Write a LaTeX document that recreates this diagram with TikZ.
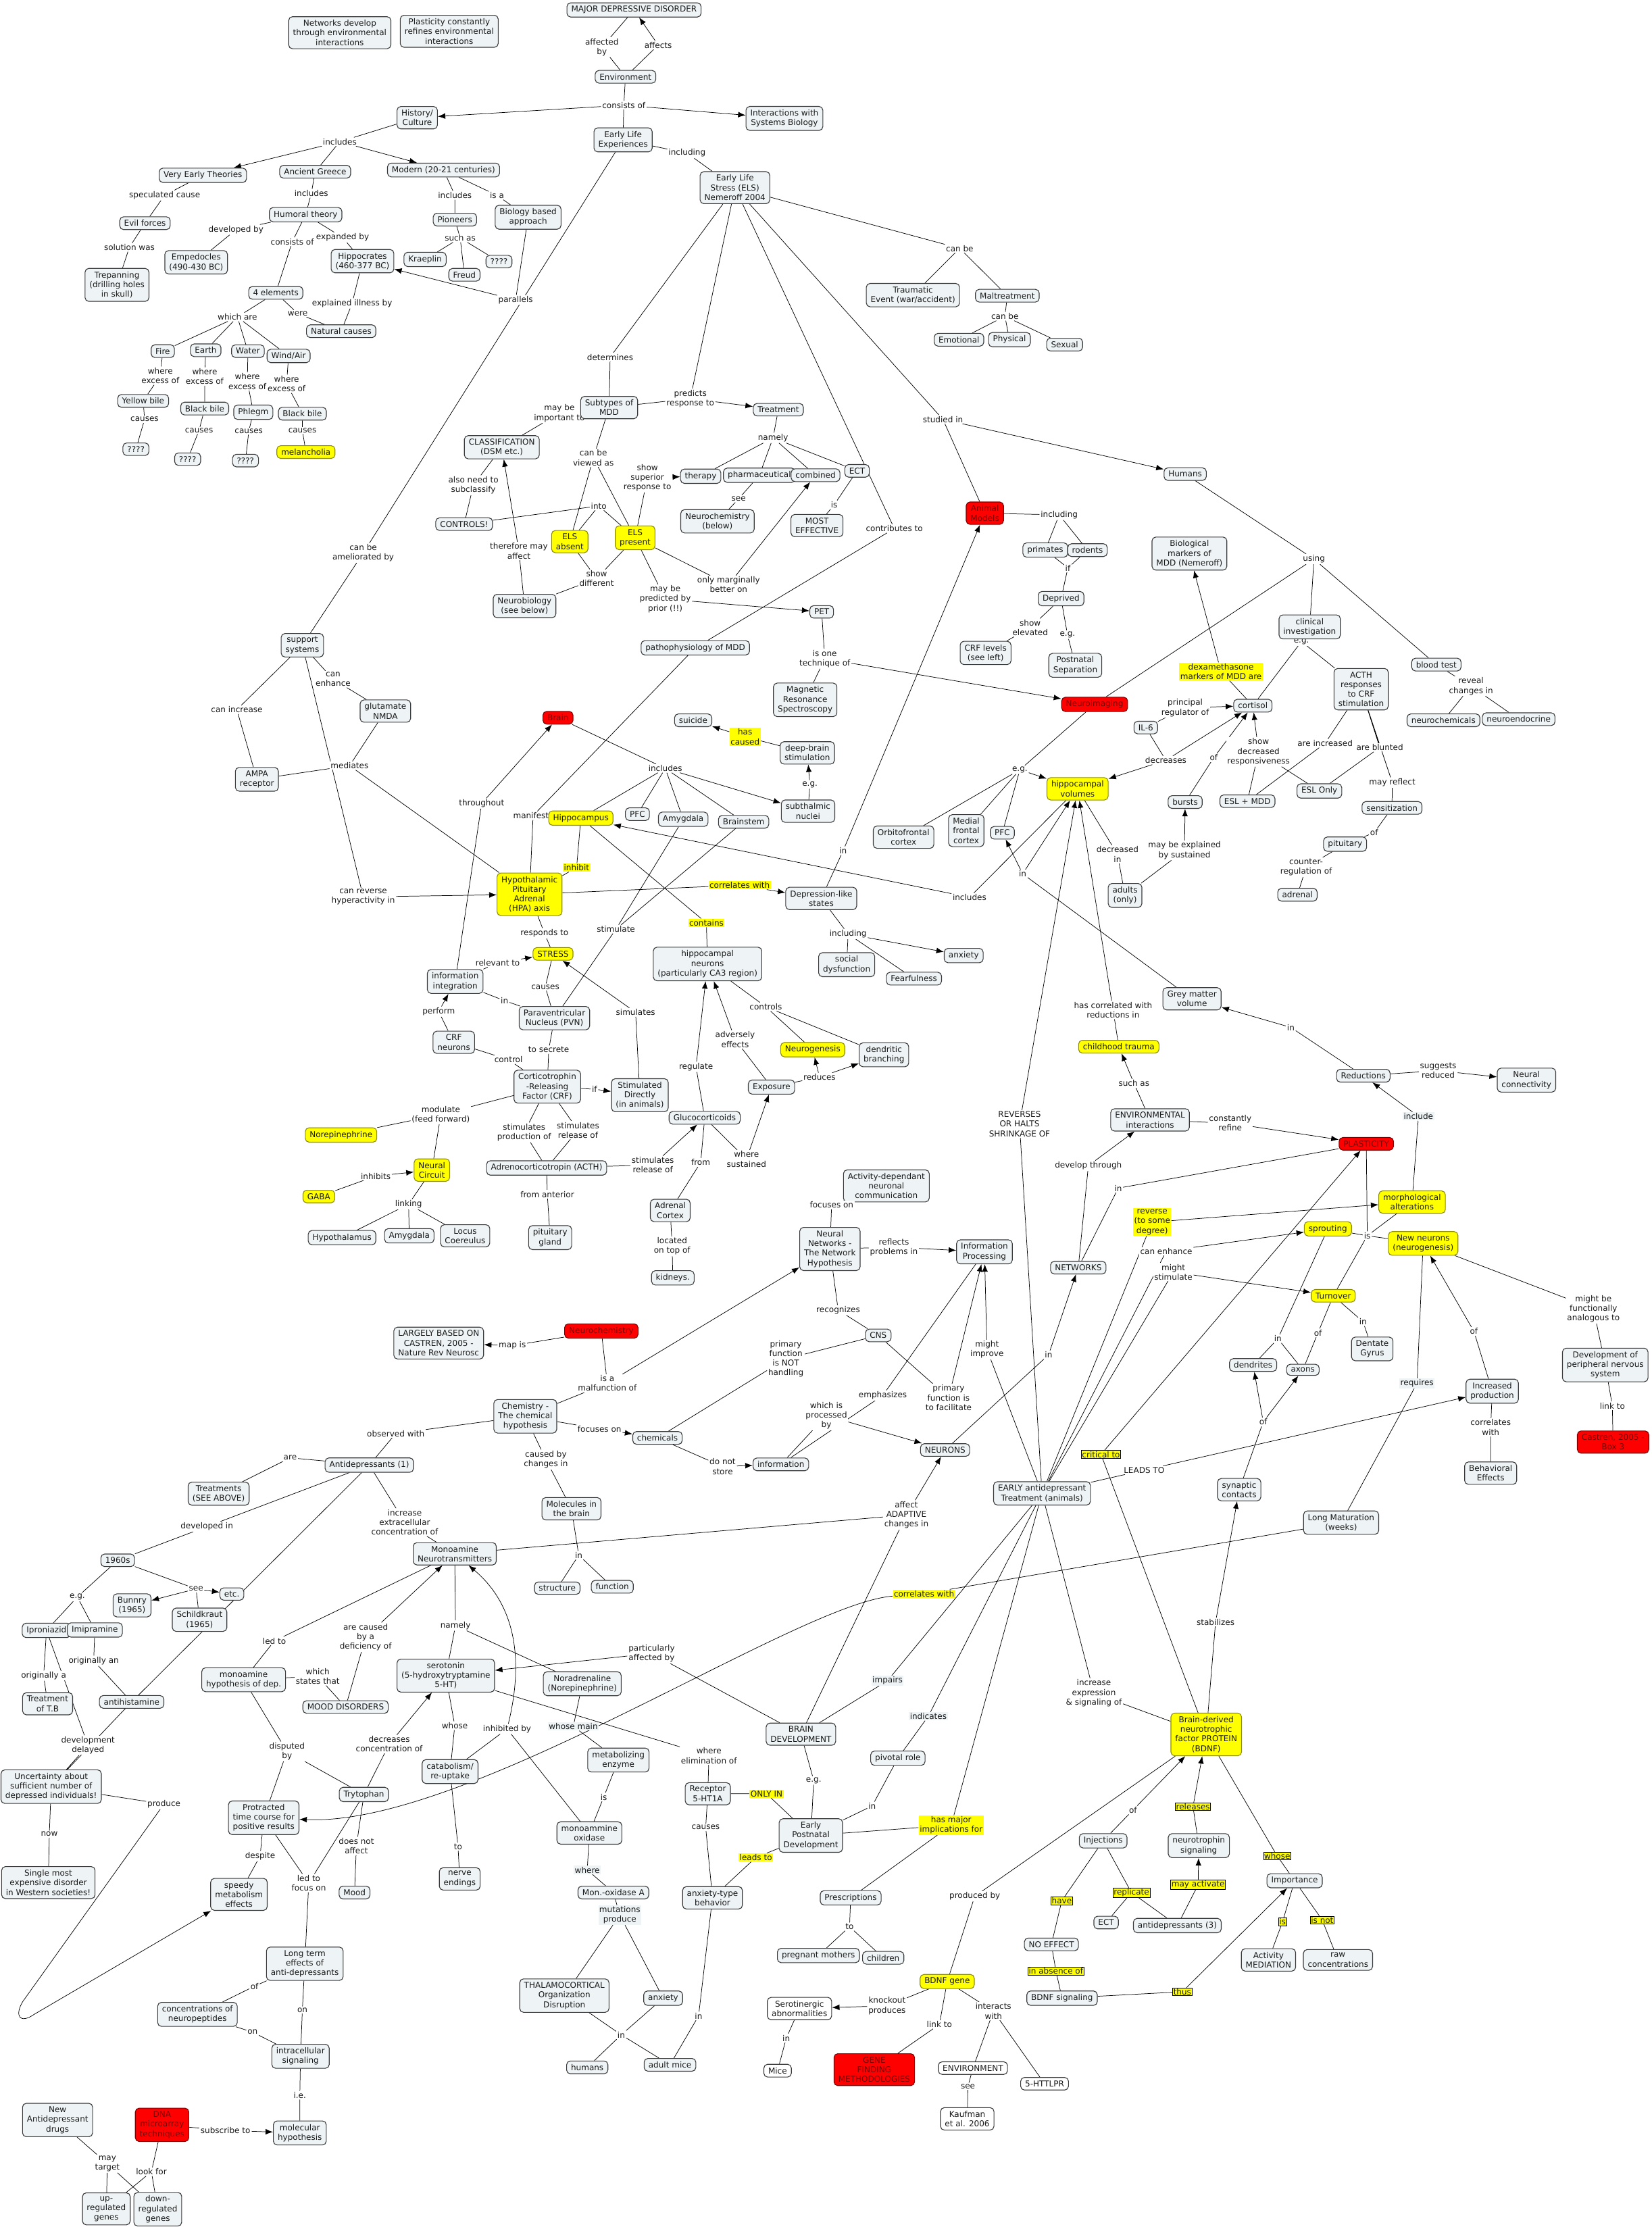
\documentclass[tikz,border=0pt]{standalone}
\usepackage{fontspec}
\setmainfont{DejaVu Sans}
\usetikzlibrary{arrows.meta,backgrounds}
\definecolor{Cfill}{HTML}{EEF3F5}
\definecolor{Cline}{HTML}{3A3A3A}
\definecolor{Yel}{HTML}{FFFF00}
\definecolor{YelLine}{HTML}{8C8C00}
\definecolor{Rd}{HTML}{FF0000}
\definecolor{RdText}{HTML}{7A0000}

\begin{document}
\begin{tikzpicture}[x=0.04cm,y=-0.04cm,
  every node/.style={font=\fontsize{6.5}{7.7}\selectfont,align=center,text=black!90},
  cpt/.style={draw=Cline,fill=Cfill,rounded corners=3pt,inner xsep=3.5pt,inner ysep=2.6pt,line width=0.6pt},
  wcpt/.style={cpt,fill=white},
  ycpt/.style={cpt,draw=YelLine,fill=Yel},
  rcpt/.style={cpt,draw=RdText,fill=Rd,text=RdText},
  lnk/.style={fill=white,inner sep=0.8pt},
  glnk/.style={fill=Cfill,inner sep=0.8pt},
  ylnk/.style={fill=Yel,inner sep=0.8pt},
  yblnk/.style={fill=Yel,draw=black,line width=0.4pt,inner sep=0.6pt},
  >={Latex[length=6pt,width=4.6pt]}]
\useasboundingbox (0,0) rectangle (1162,1568);

\node[cpt] (netdev) at (239,23) {Networks develop\\through environmental\\interactions};
\node[cpt] (plref) at (316,22) {Plasticity constantly\\refines environmental\\interactions};
\node[cpt] (mdd) at (446,7) {MAJOR DEPRESSIVE DISORDER};
\node[lnk] (affby) at (423.4,33.2) {affected\\by};
\node[lnk] (affects) at (463,31.7) {affects};
\node[cpt] (env) at (440,54) {Environment};
\node[lnk] (consof) at (438.8,74) {consists of};
\node[cpt] (hist) at (293.5,82.8) {History/\\Culture};
\node[cpt] (isb) at (551.8,83.3) {Interactions with\\Systems Biology};
\node[cpt] (ele) at (438.3,98.4) {Early Life\\Experiences};
\node[lnk] (incl1) at (483.3,107.7) {including};
\node[cpt] (els) at (517,132) {Early Life\\Stress (ELS)\\Nemeroff 2004};
\node[lnk] (inch) at (239,99.7) {includes};
\node[cpt] (vet) at (142.7,123.3) {Very Early Theories};
\node[cpt] (ag) at (221.7,120.8) {Ancient Greece};
\node[cpt] (modern) at (312,119.6) {Modern (20-21 centuries)};
\node[lnk] (spec) at (115.8,137.4) {speculated cause};
\node[lnk] (incag) at (219,136) {includes};
\node[lnk] (incmod) at (320,137.4) {includes};
\node[lnk] (isa) at (349.6,137.4) {is a};
\node[cpt] (evil) at (102,157) {Evil forces};
\node[cpt] (humor) at (215,151) {Humoral theory};
\node[cpt] (pion) at (320,154.5) {Pioneers};
\node[cpt] (biob) at (371.5,152.8) {Biology based\\approach};
\node[lnk] (devby) at (166,161.6) {developed by};
\node[lnk] (consof2) at (205.6,170) {consists of};
\node[lnk] (expby) at (241,167) {expanded by};
\node[lnk] (suchas) at (323.7,167.4) {such as};
\node[lnk] (solwas) at (91,174) {solution was};
\node[cpt] (emp) at (138,184.5) {Empedocles\\(490-430 BC)};
\node[cpt] (hipp) at (255,183.7) {Hippocrates\\(460-377 BC)};
\node[cpt] (krae) at (299,182.5) {Kraeplin};
\node[cpt] (freud) at (326.7,193.3) {Freud};
\node[cpt] (qa) at (351,184) {????};
\node[cpt] (trep) at (82.3,200.4) {Trepanning\\(drilling holes\\in skull)};
\node[cpt] (fourel) at (194,206) {4 elements};
\node[lnk] (par) at (362.7,211) {parallels};
\node[lnk] (expill) at (247.7,213.4) {explained illness by};
\node[lnk] (whichare) at (167,223) {which are};
\node[lnk] (were) at (209.4,220.5) {were};
\node[cpt] (nat) at (240,233) {Natural causes};
\node[cpt] (fire) at (114.5,247) {Fire};
\node[cpt] (earth) at (144.7,246.4) {Earth};
\node[cpt] (water) at (174.4,247) {Water};
\node[cpt] (wind) at (203,250.4) {Wind/Air};
\node[lnk] (wex1) at (112.8,264.3) {where\\excess of};
\node[lnk] (wex2) at (144,264.8) {where\\excess of};
\node[lnk] (wex3) at (174,268.3) {where\\excess of};
\node[lnk] (wex4) at (201.6,270) {where\\excess of};
\node[cpt] (yb) at (100.7,282) {Yellow bile};
\node[cpt] (bb1) at (144,287.4) {Black bile};
\node[cpt] (phl) at (178.2,290) {Phlegm};
\node[cpt] (bb2) at (212.7,291) {Black bile};
\node[lnk] (cs1) at (101.7,295) {causes};
\node[lnk] (cs2) at (140,302.8) {causes};
\node[lnk] (cs3) at (175,303.3) {causes};
\node[lnk] (cs4) at (212.7,302.8) {causes};
\node[cpt] (qb) at (95.6,316) {????};
\node[cpt] (qc) at (132,323) {????};
\node[cpt] (qd) at (172.7,324) {????};
\node[ycpt] (mel) at (215.2,318) {melancholia};

\node[lnk] (canbe) at (675.1,174.7) {can be};
\node[cpt] (trauma) at (642.2,207.6) {Traumatic\\Event (war/accident)};
\node[cpt] (malt) at (708.6,208) {Maltreatment};
\node[lnk] (canbe2) at (706.9,222.5) {can be};
\node[cpt] (emot) at (674.6,239) {Emotional};
\node[cpt] (phys) at (710.1,238.9) {Physical};
\node[cpt] (sexual) at (748.9,242.4) {Sexual};
\node[lnk] (determ) at (429.2,251.2) {determines};
\node[lnk] (mayimp) at (393.5,290.7) {may be\\important to};
\node[cpt] (subt) at (428.5,286.7) {Subtypes of\\MDD};
\node[lnk] (predicts) at (485.6,280.4) {predicts\\response to};
\node[cpt] (treat) at (547.5,288.2) {Treatment};
\node[lnk] (namely) at (543.8,308) {namely};
\node[lnk] (canview) at (417.4,322) {can be\\viewed as};
\node[lnk] (showsup) at (455.4,336) {show\\superior\\response to};
\node[cpt] (ther) at (492.9,335) {therapy};
\node[cpt] (pharm) at (534.2,334.3) {pharmaceutical};
\node[cpt] (comb) at (573.7,334.3) {combined};
\node[cpt] (ect) at (602.9,331.2) {ECT};
\node[lnk] (see1) at (519.6,350.9) {see};
\node[cpt] (nchem) at (504.7,366.7) {Neurochemistry\\(below)};
\node[lnk] (is1) at (586.8,355.1) {is};
\node[cpt] (most) at (574.7,369.7) {MOST\\EFFECTIVE};
\node[lnk] (studin) at (663.3,295) {studied in};
\node[cpt] (humans) at (833.7,333.5) {Humans};
\node[lnk] (contrib) at (629.1,371.8) {contributes to};
\node[lnk] (into) at (421.2,355.9) {into};
\node[ycpt] (elsab) at (400.8,381) {ELS\\absent};
\node[ycpt] (elspr) at (446.8,378.3) {ELS\\present};
\node[rcpt] (animal) at (692.8,361) {Animal\\Models};
\node[lnk] (incl2) at (745.1,362.2) {including};
\node[cpt] (prim) at (735.3,386.9) {primates};
\node[cpt] (rod) at (765,387) {rodents};
\node[cpt] (classif) at (353,314.6) {CLASSIFICATION\\(DSM etc.)};
\node[lnk] (alsoneed) at (333,341.3) {also need to\\subclassify};
\node[cpt] (controls) at (326.5,368.7) {CONTROLS!};
\node[lnk] (thermay) at (365,387.6) {therefore may\\affect};
\node[lnk] (canam) at (255.5,389) {can be\\ameliorated by};

\node[lnk] (showdiff) at (419.7,407) {show\\different};
\node[lnk] (maypred) at (468,421.4) {may be\\predicted by\\prior (!!)};
\node[lnk] (onlymar) at (512.5,411.3) {only marginally\\better on};
\node[cpt] (pet) at (578,430.4) {PET};
\node[cpt] (patho) at (489.1,455.7) {pathophysiology of MDD};
\node[lnk] (istech) at (580.2,463.4) {is one\\technique of};
\node[cpt] (mrs) at (566.4,492.3) {Magnetic\\Resonance\\Spectroscopy};
\node[rcpt] (brain) at (392.5,504.9) {Brain};
\node[cpt] (suicide) at (487.6,506.7) {suicide};
\node[ylnk] (hascaused) at (524.1,518.3) {has\\caused};
\node[cpt] (dbs) at (567.9,529.6) {deep-brain\\stimulation};
\node[lnk] (incb) at (468,540.5) {includes};
\node[lnk] (eg1) at (569.7,551.8) {e.g.};
\node[cpt] (subth) at (568.4,570.6) {subthalmic\\nuclei};
\node[lnk] (manif) at (375,573.7) {manifests};
\node[ycpt] (hippoc) at (408.6,575.5) {Hippocampus};
\node[cpt] (pfc) at (448.4,572.7) {PFC};
\node[cpt] (amyg) at (480.6,576.3) {Amygdala};
\node[cpt] (brainst) at (523.1,578.1) {Brainstem};
\node[ylnk] (inhibit) at (405.6,610.3) {inhibit};
\node[ylnk] (corr1) at (520.3,622.7) {correlates with};
\node[cpt] (dls) at (577.7,632) {Depression-like\\states};
\node[lnk] (in1) at (593.1,598.4) {in};
\node[lnk] (incr) at (682,631.2) {includes};
\node[lnk] (stim) at (433.3,653.6) {stimulate};
\node[ylnk] (contains) at (496.9,649.2) {contains};
\node[lnk] (incl3) at (596.6,657) {including};
\node[cpt] (hneur) at (497.7,678.1) {hippocampal\\neurons\\(particularly CA3 region)};
\node[cpt] (socd) at (595.6,678.6) {social\\dysfunction};
\node[cpt] (fear) at (642.9,688.4) {Fearfulness};
\node[cpt] (anx1) at (677.9,672.2) {anxiety};
\node[lnk] (simul) at (447.1,712.1) {simulates};
\node[lnk] (ctrls) at (538.7,708.2) {controls};
\node[lnk] (advers) at (517.1,731.2) {adversely\\effects};
\node[ycpt] (neurog) at (571.7,738.4) {Neurogenesis};
\node[cpt] (dendb) at (621.8,742) {dendritic\\branching};
\node[lnk] (regul) at (489.6,750.5) {regulate};
\node[lnk] (reduces) at (576.5,757.7) {reduces};
\node[cpt] (expo) at (542.7,764.7) {Exposure};
\node[lnk] (if1) at (418.2,766.2) {if};
\node[cpt] (stimd) at (450.1,770.4) {Stimulated\\Directly\\(in animals)};
\node[cpt] (orb) at (635.6,588.9) {Orbitofrontal\\cortex};
\node[cpt] (mfc) at (679.7,584.3) {Medial\\frontal\\cortex};
\node[cpt] (pfcb) at (705.1,585.8) {PFC};
\node[lnk] (eg2) at (717.4,541.5) {e.g.};
\node[ycpt] (hvol) at (758,554.9) {hippocampal\\volumes};
\node[lnk] (in2) at (719.4,614.7) {in};
\node[lnk] (showel) at (724.7,441.5) {show\\elevated};
\node[cpt] (crfl) at (693.3,459.3) {CRF levels\\(see left)};
\node[cpt] (depr) at (746.4,421.1) {Deprived};
\node[lnk] (if2) at (751.2,399.5) {if};
\node[lnk] (eg3) at (750.9,446.4) {e.g.};
\node[cpt] (postn) at (756.4,468) {Postnatal\\Separation};
\node[rcpt] (neuroim) at (770,495.5) {Neuroimaging};
\node[cpt] (biom) at (836.7,389.4) {Biological\\markers of\\MDD (Nemeroff)};
\node[lnk] (using) at (924.3,393.3) {using};
\node[lnk] (eg4) at (915.5,451.3) {e.g.};
\node[cpt] (clin) at (921.3,441) {clinical\\investigation};
\node[cpt] (blood) at (1010.4,467.5) {blood test};
\node[lnk] (reveal) at (1034.8,482.7) {reveal\\changes in};
\node[cpt] (nchems) at (1015.4,506.7) {neurochemicals};
\node[cpt] (nendo) at (1068.3,505.9) {neuroendocrine};
\node[ylnk] (dexa) at (858.9,472.4) {dexamethasone\\markers of MDD are};
\node[cpt] (cort) at (881.3,496.4) {cortisol};
\node[lnk] (princ) at (833.7,497.9) {principal\\regulator of};
\node[cpt] (acthr) at (957.5,484.8) {ACTH\\responses\\to CRF\\stimulation};
\node[cpt] (il6) at (806,511.8) {IL-6};
\node[lnk] (decr) at (820.1,534.8) {decreases};
\node[lnk] (of1) at (853.8,533) {of};
\node[lnk] (showdec) at (885.3,528.9) {show\\decreased\\responsiveness};
\node[lnk] (areinc) at (932.1,522.9) {are increased};
\node[lnk] (areblu) at (970.6,525.8) {are blunted};
\node[cpt] (eslmdd) at (877.5,563.6) {ESL + MDD};
\node[cpt] (eslonly) at (928.1,556.4) {ESL Only};
\node[lnk] (mayref) at (979.4,550.5) {may reflect};
\node[cpt] (sens) at (979.2,568.3) {sensitization};
\node[cpt] (bursts) at (833.7,564.2) {bursts};
\node[lnk] (of2) at (966.6,585.8) {of};
\node[cpt] (pit) at (946.2,593.8) {pituitary};
\node[lnk] (counter) at (918.8,610) {counter-\\regulation of};
\node[cpt] (adren) at (912.7,629.4) {adrenal};
\node[lnk] (decin) at (786.1,601) {decreased\\in};
\node[lnk] (mayexp) at (833.2,598.2) {may be explained\\by sustained};
\node[cpt] (adults) at (791.4,629.9) {adults\\(only)};
\node[cpt] (grey) at (838.5,702.6) {Grey matter\\volume};
\node[lnk] (in3) at (908,722.7) {in};
\node[cpt] (reduc) at (959,756.7) {Reductions};
\node[lnk] (sugg) at (1011.7,753.1) {suggests\\reduced};
\node[cpt] (nconn) at (1073.8,759.8) {Neural\\connectivity};
\node[lnk] (suchas2) at (797.7,762.1) {such as};
\node[ycpt] (ctrauma) at (787,736.3) {childhood trauma};
\node[lnk] (hascorr) at (783,710.5) {has correlated with\\reductions in};

\node[cpt] (nbio) at (369,426.3) {Neurobiology\\(see below)};
\node[cpt] (support) at (212.7,453.9) {support\\systems};
\node[lnk] (canenh) at (234.3,477.8) {can\\enhance};
\node[lnk] (caninc) at (166.6,499.2) {can increase};
\node[cpt] (glut) at (271.1,500.2) {glutamate\\NMDA};
\node[lnk] (med) at (245.9,538.6) {mediates};
\node[cpt] (ampa) at (180.7,548.2) {AMPA\\receptor};
\node[lnk] (through) at (338.8,565.2) {throughout};
\node[lnk] (canrev) at (255.5,630.9) {can reverse\\hyperactivity in};
\node[ycpt] (hpa) at (372.5,629.1) {Hypothalamic\\Pituitary\\Adrenal\\(HPA) axis};
\node[lnk] (resp) at (383,656.5) {responds to};
\node[ycpt] (stress) at (389,671) {STRESS};
\node[lnk] (relev) at (350.1,677.3) {relevant to};
\node[cpt] (infoint) at (320.2,690.4) {information\\integration};
\node[lnk] (cs5) at (383.6,694.3) {causes};
\node[lnk] (in4) at (354.9,703.9) {in};
\node[cpt] (pvn) at (390,716.2) {Paraventricular\\Nucleus (PVN)};
\node[lnk] (perform) at (308.6,711.6) {perform};
\node[cpt] (crfn) at (319.2,733.2) {CRF\\neurons};
\node[lnk] (tosec) at (386,738.4) {to secrete};
\node[lnk] (control) at (357.7,745.4) {control};
\node[cpt] (crf) at (385,764.4) {Corticotrophin\\-Releasing\\Factor (CRF)};
\node[lnk] (modul) at (310.1,784) {modulate\\(feed forward)};
\node[ycpt] (norep) at (239.9,798.4) {Norepinephrine};
\node[lnk] (stprod) at (368.7,796.6) {stimulates\\production of};
\node[lnk] (strel1) at (406.6,795) {stimulates\\release of};
\node[cpt] (acth) at (384.5,821.6) {Adrenocorticotropin (ACTH)};
\node[ycpt] (nc) at (303.8,823.1) {Neural\\Circuit};
\node[lnk] (inhibits) at (264.3,827.3) {inhibits};
\node[ycpt] (gaba) at (224.3,841.7) {GABA};
\node[lnk] (linking) at (287.4,847.1) {linking};
\node[cpt] (hypoth) at (240.6,870.6) {Hypothalamus};
\node[cpt] (amyg2) at (287.9,869.3) {Amygdala};
\node[cpt] (locus) at (327.2,869.3) {Locus\\Coereulus};
\node[lnk] (fromant) at (385,840.1) {from anterior};
\node[cpt] (pitg) at (387,870.6) {pituitary\\gland};
\node[cpt] (largely) at (308.6,944.8) {LARGELY BASED ON\\CASTREN, 2005 -\\Nature Rev Neurosc};
\node[lnk] (mapis) at (360.4,946.6) {map is};
\node[cpt] (chem) at (369.5,996.3) {Chemistry -\\The chemical\\hypothesis};
\node[lnk] (obsw) at (278.4,1008.4) {observed with};
\node[lnk] (are) at (204.1,1025.5) {are};
\node[cpt] (antid) at (259.8,1030.6) {Antidepressants (1)};
\node[cpt] (treats) at (153.8,1050.7) {Treatments\\(SEE ABOVE)};
\node[lnk] (causedby) at (384,1026.7) {caused by\\changes in};
\node[lnk] (devin) at (145.5,1073.9) {developed in};
\node[lnk] (incext) at (284.7,1070.8) {increase\\extracellular\\concentration of};
\node[cpt] (mono) at (319.9,1093) {Monoamine\\Neurotransmitters};
\node[cpt] (sixties) at (82.8,1097.6) {1960s};
\node[lnk] (see2) at (137.9,1117.7) {see};
\node[cpt] (etc) at (163.1,1121.3) {etc.};
\node[lnk] (eg5) at (54.4,1123.4) {e.g.};
\node[cpt] (bunnry) at (92.9,1129.3) {Bunnry\\(1965)};
\node[cpt] (schild) at (140.4,1139.4) {Schildkraut\\(1965)};
\node[cpt] (iproz) at (32.7,1146.9) {Iproniazid};
\node[cpt] (imip) at (66.7,1146.6) {Imipramine};
\node[lnk] (ledto) at (193,1154.3) {led to};
\node[lnk] (arecaused) at (257.2,1151.7) {are caused\\by a\\deficiency of};
\node[lnk] (namely2) at (320.4,1143.5) {namely};

\node[cpt] (gluco) at (495.7,786.3) {Glucocorticoids};
\node[lnk] (strel2) at (459.2,819.5) {stimulates\\release of};
\node[lnk] (from) at (492.9,817.7) {from};
\node[lnk] (wsust) at (525.1,815.4) {where\\sustained};
\node[cpt] (actdep) at (623.5,834.2) {Activity-dependant\\neuronal\\communication};
\node[lnk] (focon1) at (585,847.6) {focuses on};
\node[cpt] (adrc) at (471.5,851.5) {Adrenal\\Cortex};
\node[cpt] (nnet) at (583.8,878.6) {Neural\\Networks -\\The Network\\Hypothesis};
\node[lnk] (reflects) at (628.8,877.3) {reflects\\problems in};
\node[cpt] (infop) at (692.5,880.6) {Information\\Processing};
\node[lnk] (located) at (472.8,876.7) {located\\on top of};
\node[cpt] (kidneys) at (473.3,898.9) {kidneys.};
\node[lnk] (reverses) at (717.2,790.7) {REVERSES\\OR HALTS\\SHRINKAGE OF};
\node[lnk] (devthr) at (765.6,820) {develop through};
\node[cpt] (networks) at (758.5,891.7) {NETWORKS};
\node[lnk] (recog) at (589.6,921.6) {recognizes};
\node[cpt] (cns) at (617.8,939.4) {CNS};
\node[rcpt] (nchemb) at (423,936.3) {Neurochemistry};
\node[lnk] (mightimp) at (694.3,949.4) {might\\improve};
\node[lnk] (in5) at (737.6,953) {in};
\node[lnk] (primnot) at (552.8,955.9) {primary\\function\\is NOT\\handling};
\node[lnk] (malf) at (427.2,973.1) {is a\\malfunction of};
\node[lnk] (emph) at (621,981.6) {emphasizes};
\node[lnk] (primfac) at (667.3,983.2) {primary\\function is\\to facilitate};
\node[lnk] (whproc) at (581.3,995.8) {which is\\processed\\by};
\node[lnk] (focon2) at (421.7,1005.1) {focuses on};
\node[cpt] (chemicals) at (462.5,1011.5) {chemicals};
\node[cpt] (neurons) at (664.8,1020) {NEURONS};
\node[lnk] (donot) at (508.3,1031.6) {do not\\store};
\node[cpt] (info) at (549.3,1030.1) {information};
\node[cpt] (early) at (733,1050.5) {EARLY antidepressant\\Treatment (animals)};
\node[lnk] (affad) at (637.6,1065.7) {affect\\ADAPTIVE\\changes in};
\node[cpt] (molec) at (402,1061.3) {Molecules in\\the brain};
\node[lnk] (in6) at (407.1,1094) {in};
\node[cpt] (struct) at (392,1117.2) {structure};
\node[cpt] (func) at (430.7,1116.2) {function};
\node[ylnk] (corr2) at (650,1121.1) {correlates with};
\node[lnk] (partaff) at (458.4,1163.1) {particularly\\affected by};
\node[yblnk] (crit) at (774.5,1023.1) {critical to};

\node[cpt] (envint) at (809,787.8) {ENVIRONMENTAL\\interactions};
\node[lnk] (constref) at (865.4,790.1) {constantly\\refine};
\node[glnk] (include) at (997.8,785.3) {include};
\node[rcpt] (plast) at (961.1,804.6) {PLASTICITY};
\node[lnk] (in7) at (786.6,835.8) {in};
\node[ycpt] (morph) at (993.3,845.6) {morphological\\alterations};
\node[ylnk] (reverse) at (810.5,859.7) {reverse\\(to some\\degree)};
\node[ycpt] (sprout) at (934.1,864.4) {sprouting};
\node[lnk] (is2) at (961.8,869.3) {is};
\node[ycpt] (newn) at (1001.1,874.7) {New neurons\\(neurogenesis)};
\node[lnk] (canenh2) at (820.4,880.1) {can enhance};
\node[lnk] (mightst) at (825.4,894.8) {might\\stimulate};
\node[ycpt] (turnover) at (937.9,911.5) {Turnover};
\node[lnk] (in8) at (958.8,929.8) {in};
\node[lnk] (mightbe) at (1120.9,920.6) {might be\\functionally\\analogous to};
\node[lnk] (in9) at (898.9,941.7) {in};
\node[lnk] (of3) at (927.1,937.6) {of};
\node[cpt] (dentate) at (965.3,948.9) {Dentate\\Gyrus};
\node[cpt] (dendr) at (881.5,960.2) {dendrites};
\node[cpt] (axons) at (916.5,963.6) {axons};
\node[cpt] (pns) at (1129.2,960.2) {Development of\\peripheral nervous\\system};
\node[glnk] (requires) at (996.8,973.1) {requires};
\node[cpt] (incprod) at (1049.7,978.6) {Increased\\production};
\node[lnk] (of4) at (1036.8,936.5) {of};
\node[lnk] (linkto) at (1134.2,988.9) {link to};
\node[lnk] (of5) at (888.6,1000.2) {of};
\node[lnk] (corrw) at (1048.6,1004) {correlates\\with};
\node[rcpt] (castren) at (1134.7,1014.4) {Castren, 2005 -\\Box 3};
\node[lnk] (leads) at (804.8,1034.2) {LEADS TO};
\node[cpt] (behav) at (1048.6,1036.3) {Behavioral\\Effects};
\node[cpt] (syn) at (871.7,1047.9) {synaptic\\contacts};
\node[cpt] (longmat) at (943.4,1071.1) {Long Maturation\\(weeks)};
\node[lnk] (stab) at (855.1,1141) {stabilizes};

\node[lnk] (origan) at (65.9,1168.3) {originally an};
\node[lnk] (origa) at (30.7,1178.7) {originally a};
\node[cpt] (tb) at (33.5,1198.5) {Treatment\\of T.B};
\node[cpt] (antih) at (92.6,1197.2) {antihistamine};
\node[cpt] (monohyp) at (171.4,1181.6) {monoamine\\hypothesis of dep.};
\node[lnk] (whichst) at (223.5,1179.2) {which\\states that};
\node[cpt] (mood) at (243.1,1200.8) {MOOD DISORDERS};
\node[cpt] (sero) at (313.6,1178.7) {serotonin\\(5-hydroxytryptamine\\5-HT)};
\node[lnk] (whose1) at (319.9,1213.9) {whose};
\node[lnk] (inhby) at (356.7,1216.2) {inhibited by};
\node[lnk] (decconc) at (273.8,1226.9) {decreases\\concentration of};
\node[lnk] (devdel) at (61.9,1227.7) {development\\delayed};
\node[lnk] (disp) at (201.9,1232.1) {disputed\\by};
\node[cpt] (catab) at (316.6,1246.2) {catabolism/\\re-uptake};
\node[cpt] (uncert) at (36,1256.8) {Uncertainty about\\sufficient number of\\depressed individuals!};
\node[cpt] (tryp) at (256,1262.3) {Trytophan};
\node[lnk] (produce) at (115.3,1269.1) {produce};
\node[cpt] (protr) at (185.5,1278.7) {Protracted\\time course for\\positive results};
\node[lnk] (doesnot) at (250.7,1298.5) {does not\\affect};
\node[lnk] (to1) at (322.2,1299) {to};
\node[lnk] (despite) at (183,1305.6) {despite};
\node[lnk] (now) at (34.7,1290.2) {now};
\node[cpt] (single) at (34,1324.3) {Single most\\expensive disorder\\in Western societies!};
\node[cpt] (speedy) at (168.1,1332.6) {speedy\\metabolism\\effects};
\node[lnk] (ledfocus) at (217.2,1324.6) {led to\\focus on};
\node[cpt] (moodn) at (249.4,1331.3) {Mood};
\node[cpt] (nerve) at (323.4,1321.7) {nerve\\endings};
\node[cpt] (longterm) at (214.4,1381.4) {Long term\\effects of\\anti-depressants};
\node[lnk] (of6) at (179,1397.2) {of};
\node[cpt] (neuropep) at (138.9,1417) {concentrations of\\neuropeptides};
\node[lnk] (on1) at (212.7,1413.9) {on};
\node[lnk] (on2) at (177.7,1429.5) {on};
\node[cpt] (intra) at (211.4,1446.5) {intracellular\\signaling};
\node[lnk] (ie) at (210.9,1473.8) {i.e.};
\node[cpt] (newad) at (40.5,1491.3) {New\\Antidepressant\\drugs};
\node[rcpt] (dna) at (114,1494.7) {DNA\\microarray\\techniques};
\node[lnk] (subscr) at (158.6,1498.6) {subscribe to};
\node[cpt] (molhyp) at (210.9,1500.4) {molecular\\hypothesis};
\node[lnk] (maytgt) at (75.5,1522) {may\\target};
\node[lnk] (lookfor) at (106.5,1527.7) {look for};
\node[cpt] (upreg) at (74.8,1553.8) {up-\\regulated\\genes};
\node[cpt] (downreg) at (111,1554.1) {down-\\regulated\\genes};

\node[cpt] (noradr) at (409.6,1184.4) {Noradrenaline\\(Norepinephrine)};
\node[glnk] (impairs) at (624.3,1182.3) {impairs};
\node[lnk] (incexp) at (769.5,1191) {increase\\expression\\\& signaling of};
\node[glnk] (indic) at (653,1207.3) {indicates};
\node[glnk] (whmain) at (403.3,1214.4) {whose main};
\node[cpt] (braind) at (563.4,1219.9) {BRAIN\\DEVELOPMENT};
\node[cpt] (metab) at (435,1238.1) {metabolizing\\enzyme};
\node[lnk] (whereel) at (498.7,1235) {where\\elimination of};
\node[cpt] (pivot) at (631.6,1236.8) {pivotal role};
\node[lnk] (eg6) at (572.4,1252.4) {e.g.};
\node[cpt] (recep) at (497.9,1261.8) {Receptor\\5-HT1A};
\node[ylnk] (onlyin) at (539.2,1261.8) {ONLY IN};
\node[lnk] (is3) at (424.7,1264.1) {is};
\node[lnk] (in10) at (613.5,1270.4) {in};
\node[ylnk] (hasmaj) at (669.1,1283.9) {has major\\implications for};
\node[cpt] (mao) at (414.6,1289.4) {monoammine\\oxidase};
\node[lnk] (cs6) at (496.4,1285.5) {causes};
\node[cpt] (epd) at (570.4,1291.2) {Early\\Postnatal\\Development};
\node[ylnk] (leadsto) at (531.7,1306.6) {leads to};
\node[glnk] (where) at (413.1,1315.4) {where};
\node[cpt] (maoa) at (431.5,1331.3) {Mon.-oxidase A};
\node[cpt] (anxt) at (501.2,1335) {anxiety-type\\behavior};
\node[cpt] (presc) at (598.4,1335) {Prescriptions};
\node[lnk] (prodby) at (685.7,1333.9) {produced by};
\node[glnk] (mutprod) at (436,1347.2) {mutations\\produce};
\node[lnk] (to2) at (597.6,1355.3) {to};
\node[cpt] (pregm) at (575.7,1375.6) {pregnant mothers};
\node[cpt] (children) at (621.3,1377.2) {children};
\node[ycpt] (bdnfg) at (666.3,1393.9) {BDNF gene};
\node[cpt] (thal) at (397,1403.8) {THALAMOCORTICAL\\Organization\\Disruption};
\node[cpt] (anx2) at (466.5,1405.6) {anxiety};
\node[lnk] (knock) at (624,1411) {knockout\\produces};
\node[wcpt] (serab) at (562.4,1412.9) {Serotinergic\\abnormalities};
\node[lnk] (interw) at (698.8,1414.7) {interacts\\with};
\node[lnk] (in11) at (491.4,1418.1) {in};
\node[lnk] (linkto2) at (660.8,1424.1) {link to};
\node[lnk] (in12) at (437,1431.4) {in};
\node[lnk] (in13) at (553.1,1433.7) {in};
\node[cpt] (humans2) at (413.1,1454.3) {humans};
\node[cpt] (adultm) at (471.3,1452.5) {adult mice};
\node[wcpt] (envb) at (684.4,1454.8) {ENVIRONMENT};
\node[wcpt] (mice) at (547,1456.6) {Mice};
\node[rcpt] (gene) at (615,1455.9) {GENE\\FINDING\\METHODOLOGIES};
\node[wcpt] (httlpr) at (734.8,1465.8) {5-HTTLPR};
\node[lnk] (see3) at (680.9,1467.6) {see};
\node[wcpt] (kauf) at (680.4,1490.5) {Kaufman\\et al. 2006};
\node[yblnk] (have) at (746.9,1337.1) {have};
\node[cpt] (noeff) at (739.6,1367.8) {NO EFFECT};
\node[yblnk] (inabs) at (742.8,1386.6) {in absence of};
\node[cpt] (bdnfsig) at (747.1,1405.6) {BDNF signaling};

\node[ycpt] (bdnf) at (848.5,1220.1) {Brain-derived\\neurotrophic\\factor PROTEIN\\(BDNF)};
\node[lnk] (of7) at (797,1273.3) {of};
\node[yblnk] (releases) at (839.2,1270.9) {releases};
\node[cpt] (inj) at (776,1294.9) {Injections};
\node[cpt] (ntsig) at (843.3,1298.3) {neurotrophin\\signaling};
\node[yblnk] (whose2) at (898.4,1305.5) {whose};
\node[cpt] (import) at (910.7,1323) {Importance};
\node[yblnk] (mayact) at (842.8,1325.9) {may activate};
\node[yblnk] (replic) at (795.9,1331.3) {replicate};
\node[cpt] (ectb) at (778.1,1352.4) {ECT};
\node[cpt] (antid3) at (828.2,1354.5) {antidepressants (3)};
\node[yblnk] (is4) at (902.2,1351.9) {is};
\node[yblnk] (isnot) at (930.1,1350.6) {is not};
\node[cpt] (actmed) at (892.3,1378.7) {Activity\\MEDIATION};
\node[cpt] (rawc) at (941.2,1378.7) {raw\\concentrations};
\node[yblnk] (thus) at (831.7,1401.1) {thus};

\coordinate (loopa) at (16,1408);
\coordinate (loopb) at (24,1417);

\begin{scope}[on background layer,line width=0.55pt]
\draw (env)--(affby)--(mdd) (env)--(affects) (env)--(consof)--(ele) (ele)--(incl1)--(els)
 (hist)--(inch)--(ag) (vet)--(spec)--(evil)--(solwas)--(trep) (ag)--(incag)--(humor)
 (humor)--(devby)--(emp) (humor)--(consof2)--(fourel) (humor)--(expby)--(hipp)
 (modern)--(incmod)--(pion) (modern)--(isa)--(biob) (pion)--(suchas)--(krae) (suchas)--(freud) (suchas)--(qa)
 (biob)--(par) (hipp)--(expill)--(nat) (fourel)--(whichare) (whichare)--(fire) (whichare)--(earth)
 (whichare)--(water) (whichare)--(wind) (fourel)--(were)--(nat)
 (fire)--(wex1)--(yb)--(cs1)--(qb) (earth)--(wex2)--(bb1)--(cs2)--(qc)
 (water)--(wex3)--(phl)--(cs3)--(qd) (wind)--(wex4)--(bb2)--(cs4)--(mel)
 (ele)--(canam)--(support);
\draw (els)--(canbe)--(trauma) (canbe)--(malt)--(canbe2)--(emot) (canbe2)--(phys) (canbe2)--(sexual)
 (els)--(determ)--(subt) (els)--(predicts) (subt)--(predicts) (els)--(contrib)--(patho)
 (els)--(studin)--(animal) (subt)--(canview)--(elsab) (canview)--(elspr) (subt)--(mayimp)--(classif)
 (treat)--(namely)--(ther) (namely)--(pharm) (namely)--(comb) (namely)--(ect)
 (pharm)--(see1)--(nchem) (ect)--(is1)--(most) (controls)--(into)--(elsab) (into)--(elspr)
 (elspr)--(showsup) (elspr)--(onlymar) (elspr)--(maypred) (elsab)--(showdiff)--(nbio) (elspr)--(showdiff)
 (nbio)--(thermay) (classif)--(alsoneed)--(controls) (animal)--(incl2)--(prim) (incl2)--(rod)
 (prim)--(if2)--(depr) (rod)--(if2) (depr)--(showel)--(crfl) (depr)--(eg3)--(postn)
 (pet)--(istech) (mrs)--(istech) (patho)--(manif)--(hpa);
\draw (brain)--(incb)--(hippoc) (incb)--(pfc) (incb)--(amyg) (incb)--(brainst) (infoint)--(through)
 (support)--(canenh)--(glut) (support)--(caninc)--(ampa) (support)--(canrev) (glut)--(med) (ampa)--(med) (med)--(hpa)
 (hpa)--(corr1) (hippoc)--(inhibit)--(hpa) (hvol)--(incr) (grey)--(in2)
 (hippoc)--(contains)--(hneur) (amyg)--(stim)--(pvn) (brainst)--(stim) (hpa)--(resp)--(stress)
 (stress)--(cs5)--(pvn) (infoint)--(relev) (infoint)--(in4)--(pvn) (crfn)--(perform) (crfn)--(control)--(crf)
 (pvn)--(tosec)--(crf) (crf)--(if1) (stimd)--(simul) (crf)--(modul)--(norep) (modul)--(nc) (gaba)--(inhibits)
 (nc)--(linking)--(hypoth) (linking)--(amyg2) (linking)--(locus) (crf)--(stprod)--(acth) (crf)--(strel1)--(acth)
 (acth)--(fromant)--(pitg) (acth)--(strel2) (gluco)--(from)--(adrc)--(located)--(kidneys) (gluco)--(regul)
 (gluco)--(wsust) (expo)--(advers) (expo)--(reduces) (hneur)--(ctrls)--(neurog) (ctrls)--(dendb)
 (dls)--(incl3)--(socd) (incl3)--(fear) (dls)--(in1) (dbs)--(hascaused) (subth)--(eg1)
 (neuroim)--(eg2)--(orb) (eg2)--(mfc) (eg2)--(pfcb) (humans)--(using)--(neuroim) (using)--(clin) (using)--(blood)
 (clin)--(eg4)--(cort) (eg4)--(acthr) (blood)--(reveal)--(nchems) (reveal)--(nendo) (cort)--(dexa)
 (il6)--(princ) (il6)--(decr) (bursts)--(of1) (eslmdd)--(showdec) (eslonly)--(showdec)
 (acthr)--(areinc)--(eslmdd) (acthr)--(areblu)--(eslonly) (acthr)--(mayref)--(sens)--(of2)--(pit)--(counter)--(adren)
 (hvol)--(decin)--(adults) (adults)--(mayexp) (reduc)--(in3) (reduc)--(sugg) (morph)--(include)
 (ctrauma)--(hascorr) (envint)--(suchas2) (envint)--(constref) (networks)--(devthr) (networks)--(in7)--(plast)
 (plast)--(is2)--(sprout) (is2)--(newn) (is2)--(turnover) (is2)--(morph);
\draw (early)--(reverse) (early)--(canenh2) (early)--(mightst) (bdnf)--(crit) (sprout)--(in9)--(dendr) (in9)--(axons)
 (turnover)--(of3)--(axons) (turnover)--(in8)--(dentate) (syn)--(of5) (bdnf)--(stab) (newn)--(requires)--(longmat)
 (incprod)--(of4) (early)--(leads) (incprod)--(corrw)--(behav) (newn)--(mightbe)--(pns)--(linkto)--(castren)
 (longmat)--(corr2) (early)--(reverses) (early)--(mightimp) (neurons)--(in5) (nnet)--(focon1)--(actdep)
 (nnet)--(reflects) (nnet)--(recog)--(cns) (cns)--(primnot)--(chemicals) (cns)--(primfac) (info)--(emph)--(infop)
 (info)--(whproc) (chemicals)--(donot) (chem)--(focon2) (nchemb)--(malf) (chem)--(malf) (nchemb)--(mapis)
 (chem)--(obsw)--(antid) (chem)--(causedby)--(molec) (molec)--(in6)--(struct) (in6)--(func)
 (antid)--(are)--(treats) (antid)--(devin)--(sixties) (antid)--(incext)--(mono) (antid)--(antih)
 (sixties)--(eg5)--(iproz) (eg5)--(imip) (sixties)--(see2)--(schild) (iproz)--(origa)--(tb) (imip)--(origan)--(antih)
 (iproz)--(devdel)--(uncert) (antih)--(uncert) (uncert)--(now)--(single) (uncert)--(produce)
 (mono)--(ledto)--(monohyp) (mood)--(arecaused) (monohyp)--(whichst)--(mood) (mono)--(namely2)--(sero) (namely2)--(noradr)
 (braind)--(partaff) (mono)--(affad) (braind)--(affad) (catab)--(inhby)--(mao) (sero)--(whose1)--(catab)--(to1)--(nerve)
 (sero)--(whereel)--(recep) (noradr)--(whmain)--(metab)--(is3)--(mao)--(where)--(maoa)--(mutprod)--(thal) (mutprod)--(anx2)
 (thal)--(in12) (anx2)--(in12) (in12)--(humans2) (in12)--(adultm) (tryp)--(decconc) (tryp)--(doesnot)--(moodn)
 (monohyp)--(disp)--(protr) (disp)--(tryp) (protr)--(despite)--(speedy) (protr)--(ledfocus)--(longterm) (tryp)--(ledfocus)
 (longterm)--(of6)--(neuropep) (longterm)--(on1)--(intra) (neuropep)--(on2)--(intra) (intra)--(ie)--(molhyp)
 (dna)--(subscr) (dna)--(lookfor)--(downreg) (lookfor)--(upreg) (newad)--(maytgt)--(upreg) (maytgt)--(downreg)
 (recep)--(onlyin)--(epd) (recep)--(cs6)--(anxt)--(in11)--(adultm) (epd)--(leadsto)--(anxt) (braind)--(eg6)--(epd)
 (early)--(impairs)--(braind) (early)--(indic)--(pivot)--(in10)--(epd) (early)--(hasmaj) (epd)--(hasmaj)--(presc)
 (presc)--(to2)--(pregm) (to2)--(children) (early)--(incexp)--(bdnf) (bdnf)--(prodby)--(bdnfg) (bdnfg)--(knock)
 (serab)--(in13)--(mice) (bdnfg)--(linkto2)--(gene) (bdnfg)--(interw)--(envb) (interw)--(httlpr) (envb)--(see3)--(kauf)
 (inj)--(of7) (inj)--(have)--(noeff)--(inabs)--(bdnfsig)--(thus) (inj)--(replic)--(ectb) (replic)--(antid3)--(mayact)
 (ntsig)--(releases) (bdnf)--(whose2)--(import)--(is4)--(actmed) (import)--(isnot)--(rawc);
\draw[->] (affects) edge (mdd) (consof) edge (hist) (consof) edge (isb) (inch) edge (vet) (inch) edge (modern)
 (par) edge (hipp) (predicts) edge (treat) (studin) edge (humans) (showsup) edge (ther) (onlymar) edge (comb)
 (maypred) edge (pet) (thermay) edge (classif) (istech) edge (neuroim) (incb) edge (subth) (through) edge (brain)
 (canrev) edge (hpa) (corr1) edge (dls) (incr) edge (hippoc) (in2) edge (pfcb) (in2) edge (hvol)
 (relev) edge (stress) (perform) edge (infoint) (if1) edge (stimd) (simul) edge (stress) (inhibits) edge (nc)
 (strel2) edge (gluco) (regul) edge (hneur) (wsust) edge (expo) (advers) edge (hneur) (reduces) edge (neurog)
 (reduces) edge (dendb) (incl3) edge (anx1) (in1) edge (animal) (hascaused) edge (suicide) (eg1) edge (dbs)
 (eg2) edge (hvol) (dexa) edge (biom) (princ) edge (cort) (decr) edge (hvol) (decr) edge (cort) (of1) edge (cort)
 (showdec) edge (cort) (mayexp) edge (bursts) (in3) edge (grey) (sugg) edge (nconn) (include) edge (reduc)
 (hascorr) edge (hvol) (suchas2) edge (ctrauma) (constref) edge (plast) (devthr) edge (envint)
 (reverse) edge (morph) (canenh2) edge (sprout) (mightst) edge (turnover) (crit) edge (plast)
 (of5) edge (dendr) (of5) edge (axons) (stab) edge (syn) (of4) edge (newn) (leads) edge (incprod)
 (reverses) edge (hvol) (mightimp) edge (infop) (in5) edge (networks) (reflects) edge (infop) (primfac) edge (infop)
 (whproc) edge (neurons) (donot) edge (info) (focon2) edge (chemicals) (malf) edge (nnet) (mapis) edge (largely)
 (see2) edge (bunnry) (see2) edge (etc) (arecaused) edge (mono) (partaff) edge (sero) (affad) edge (neurons)
 (decconc) edge (sero) (subscr) edge (molhyp) (knock) edge (serab) (of7) edge (bdnf) (thus) edge (import)
 (mayact) edge (ntsig) (releases) edge (bdnf);
\draw[->] (corr2) .. controls (560,1128) and (330,1285) .. (protr);
\draw[->] (inhby) .. controls (368,1170) and (364,1130) .. (mono);
\draw[->] (produce) -- (loopa) .. controls (10,1418) and (14,1424) .. (loopb) -- (speedy);
\end{scope}
\end{tikzpicture}
\end{document}
